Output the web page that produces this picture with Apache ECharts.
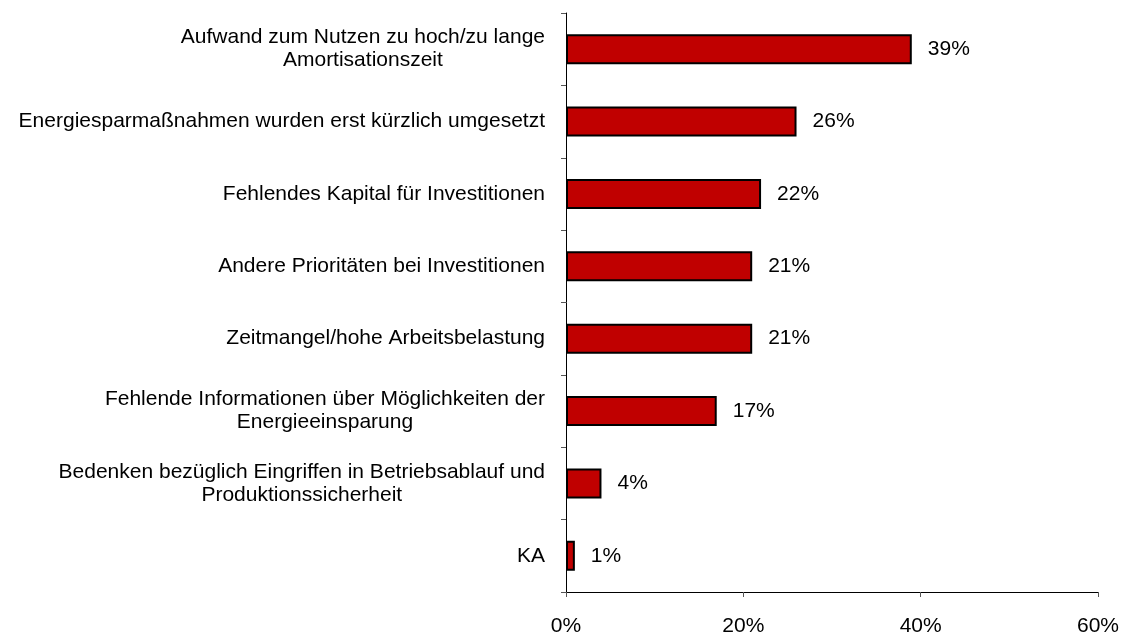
<!DOCTYPE html>
<html>
<head>
<meta charset="utf-8">
<script src="https://cdn.jsdelivr.net/npm/echarts@6/dist/echarts.min.js"></script>
<style>
  html, body { margin: 0; padding: 0; background: #fff; }
  #chart { width: 1122px; height: 637px; }
</style>
</head>
<body>
<div id="chart"></div>
<script>
// Gründe gegen Energiesparmaßnahmen (Anteil in %)
const categories = [
  'Aufwand zum Nutzen zu hoch/zu lange\nAmortisationszeit',
  'Energiesparmaßnahmen wurden erst kürzlich umgesetzt',
  'Fehlendes Kapital für Investitionen',
  'Andere Prioritäten bei Investitionen',
  'Zeitmangel/hohe Arbeitsbelastung',
  'Fehlende Informationen über Möglichkeiten der\nEnergieeinsparung',
  'Bedenken bezüglich Eingriffen in Betriebsablauf und\nProduktionssicherheit',
  'KA'
]
const values = [39, 26, 22, 21, 21, 17, 4, 1]
const xTicks = [0, 20, 40, 60]

const chart = echarts.init(document.getElementById('chart'))
const font = '"Liberation Sans", Arial, sans-serif'

const option = {
  backgroundColor: '#fff',
  animation: false,
  grid: {
    left: 566,
    right: 23,
    top: 13,
    bottom: 44,
    containLabel: false
  },
  xAxis: {
    type: 'value',
    min: xTicks[0],
    max: xTicks[xTicks.length - 1],
    interval: 20,
    splitLine: { show: false },
    axisLine: { show: true, lineStyle: { color: '#000', width: 1 } },
    axisTick: { show: true, length: 5, lineStyle: { color: '#555' } },
    axisLabel: {
      color: '#000',
      fontSize: 21,
      fontFamily: font,
      margin: 24,
      formatter: function (v) { return v + '%' }
    }
  },
  yAxis: {
    type: 'category',
    inverse: true,
    data: categories,
    axisLine: { show: true, lineStyle: { color: '#000', width: 1 } },
    axisTick: { show: true, length: 5, alignWithLabel: false, lineStyle: { color: '#555' } },
    axisLabel: {
      color: '#000',
      fontSize: 21,
      fontFamily: font,
      margin: 21,
      lineHeight: 23,
      formatter: function (v) {
        return v.split('\n').map(function (s) { return '{c|' + s + '}' }).join('\n')
      },
      rich: {
        c: { align: 'center', fontSize: 21, fontFamily: font, color: '#000', lineHeight: 23 }
      }
    }
  },
  series: [{
    type: 'bar',
    data: values,
    barWidth: 30,
    itemStyle: {
      color: '#C00000',
      borderColor: '#000',
      borderWidth: 2
    },
    label: {
      show: true,
      position: 'right',
      distance: 16,
      color: '#000',
      fontSize: 21,
      fontFamily: font,
      formatter: function (p) { return p.value + '%' }
    }
  }]
}

chart.setOption(option)
</script>
</body>
</html>
